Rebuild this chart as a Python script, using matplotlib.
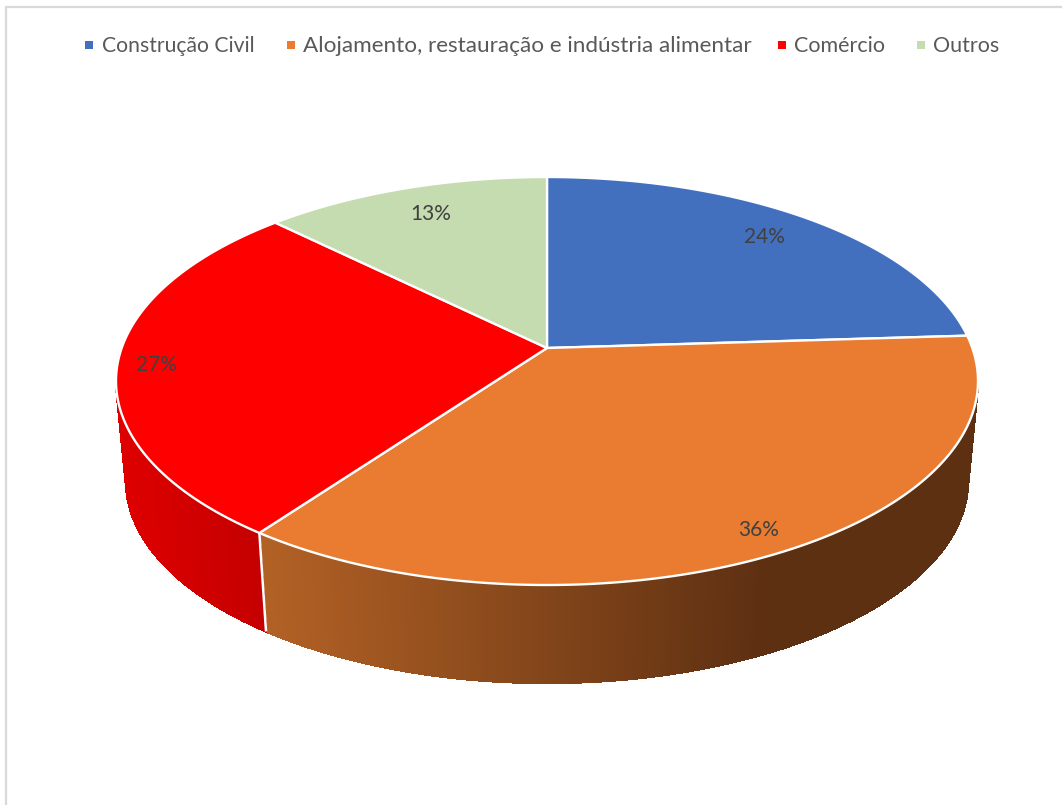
import numpy as np
from matplotlib import pyplot as plt
from matplotlib.collections import PolyCollection

categories = ['Construção Civil', 'Alojamento, restauração e indústria alimentar', 'Comércio', 'Outros']
values = [24, 36, 27.4, 12.6]
labels = ['24%', '36%', '27%', '13%']
colors = ['#4270BF', '#E97C30', '#FF0000', '#C4DCB0']

# geometry of the tilted pie, in pixels
TOP = (547, 381, 431, 204)
BOTTOM = (547, 481, 421, 202)
TILT = 33 / 204
LABEL_R = [0.84, 0.90, 0.91, 0.83]
LABEL_SHIFT = [1.2, 0, 0, -1.0]
LEGEND_X = [89, 291, 782, 921]
LEGEND_TEXT_X = [102, 303, 794, 933]
LEGEND_SIZE = [15.2, 16.2, 15.5, 15.5]


def project(deg, ellipse=TOP, r=1.0):
    # perspective view of a point on the flat disc
    cx, cy, rx, ry = ellipse
    t = np.radians(deg)
    ux = r * np.cos(t)
    uy = r * np.sin(t)
    den = 1 + TILT * uy
    return cx + rx * ux * np.sqrt(1 - TILT ** 2) / den, cy - ry * (uy + TILT) / den


def wall_color(x, idx):
    if idx == 2:
        c = np.interp(x, [116, 260], [222, 196])
        return (c / 255, 0, 0)
    s = np.interp(x, [265, 760], [0, 1])
    a = np.array([178, 97, 37]) / 255
    b = np.array([94, 48, 18]) / 255
    return tuple(a + (b - a) * s)


fig = plt.figure(figsize=(10.62, 8.05), dpi=100)
ax = fig.add_axes([0, 0, 1, 1])
ax.set_xlim(0, 1062)
ax.set_ylim(805, 0)
ax.axis('off')

ax.plot([6, 6, 1062], [805, 7, 7], color='#D9D9D9', lw=1.6)

fracs = np.array(values) / sum(values) * 360
ends = 90 - np.cumsum(fracs)
starts = np.append(90, ends[:-1])

# side wall, only the part that faces the viewer
edge = -np.degrees(np.arcsin(TILT))
for i in range(len(values)):
    a1 = min(starts[i], edge)
    a2 = max(ends[i], -180 - edge)
    if a1 <= a2:
        continue
    steps = np.linspace(a1, a2, int((a1 - a2) * 2) + 2)
    polys = []
    cols = []
    for d1, d2 in zip(steps[:-1], steps[1:]):
        x1, y1 = project(d1)
        x2, y2 = project(d2)
        x3, y3 = project(d2, BOTTOM)
        x4, y4 = project(d1, BOTTOM)
        polys.append([(x1, y1), (x2, y2), (x3, y3), (x4, y4)])
        cols.append(wall_color((x1 + x2) / 2, i))
    ax.add_collection(PolyCollection(polys, facecolors=cols, edgecolors=cols, linewidths=1.0, antialiaseds=False))

# white line where the wall changes slice
for i in range(len(values)):
    if -180 - edge < ends[i] < edge:
        p = project(ends[i])
        q = project(ends[i], BOTTOM)
        ax.plot([p[0], q[0]], [p[1], q[1]], color='white', lw=1.8, solid_capstyle='butt')

# top face
for i in range(len(values)):
    angles = np.linspace(starts[i], ends[i], 200)
    x, y = project(angles)
    cx, cy = project(0.0, r=0.0)
    ax.fill(np.r_[cx, x], np.r_[cy, y], facecolor=colors[i], edgecolor='white', lw=1.7, joinstyle='round')

for i in range(len(values)):
    x, y = project((starts[i] + ends[i]) / 2 + LABEL_SHIFT[i], r=LABEL_R[i])
    ax.text(x, y + 2, labels[i], ha='center', va='center', color='#404040', fontsize=15, family='Lato')

# legend laid out by hand, the gaps are not even in the original
for i in range(len(categories)):
    ax.plot(LEGEND_X[i], 45.5, linestyle='none', marker='s', ms=5.6, color=colors[i], mew=0)
    ax.text(LEGEND_TEXT_X[i], 46, categories[i], ha='left', va='center', color='#595959',
            fontsize=LEGEND_SIZE[i], family='Lato')

plt.savefig('out.png', dpi=100)
